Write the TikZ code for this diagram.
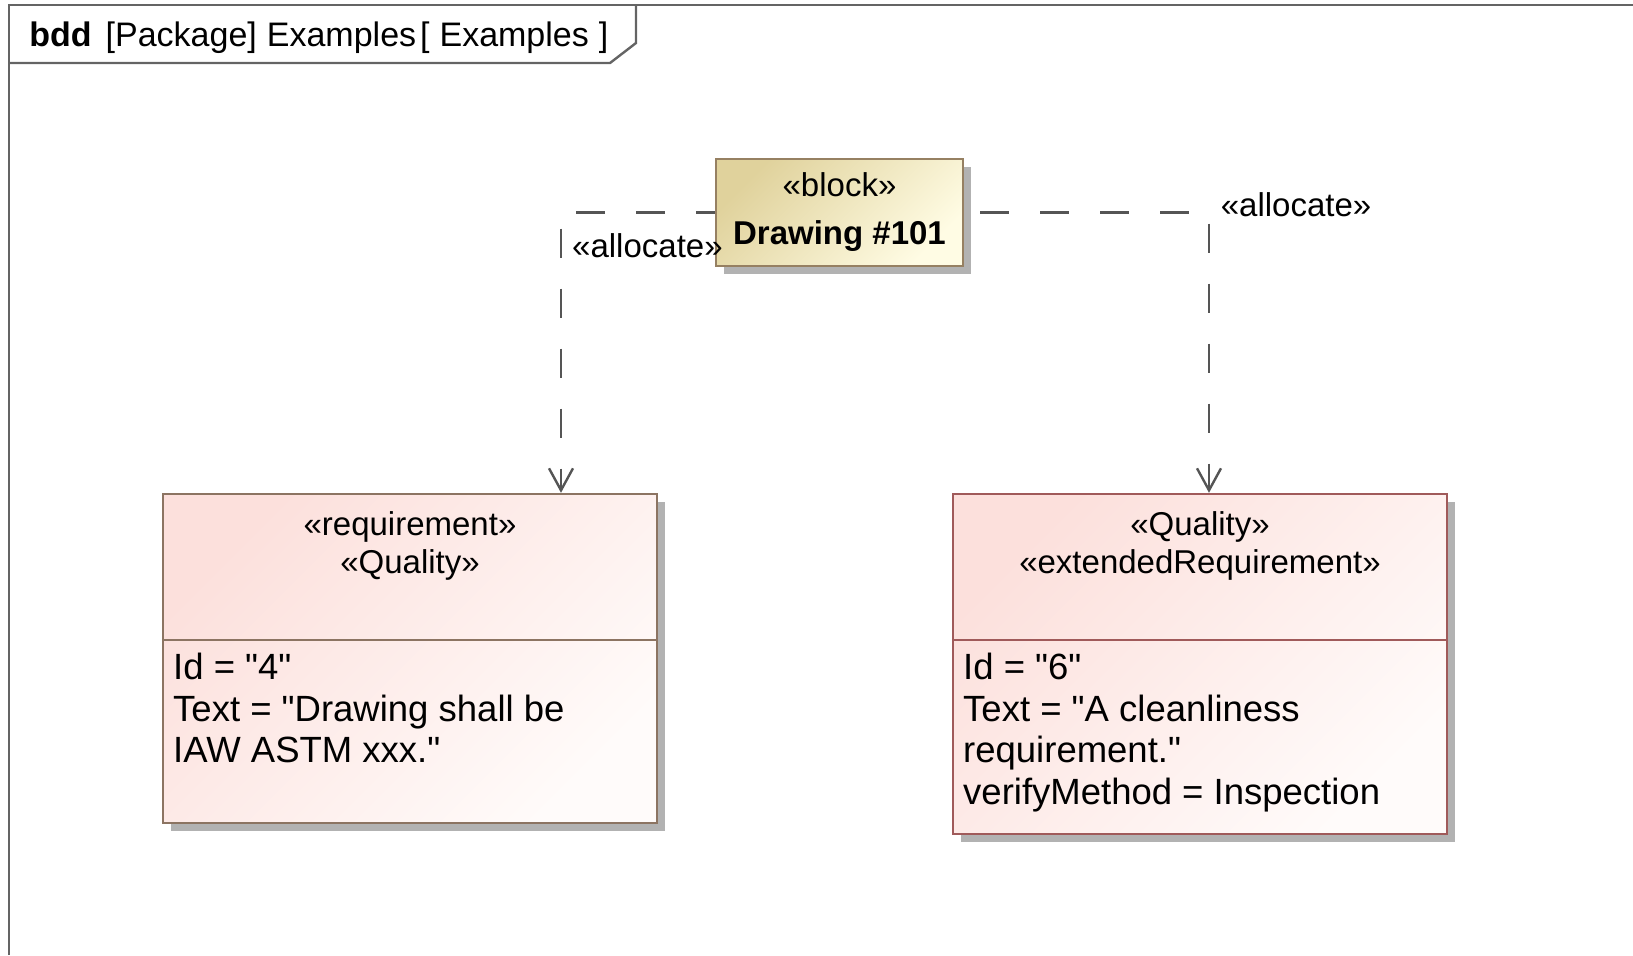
\documentclass[tikz,border=0pt]{standalone}
\usepackage{fontspec}
\setmainfont{Liberation Sans}[Ligatures=TeXOff]
\usetikzlibrary{positioning}
\usetikzlibrary{arrows.meta}
\usetikzlibrary{shadows}
\usetikzlibrary{calc}

\definecolor{framegray}{RGB}{100,100,100}
\definecolor{linegray}{RGB}{85,85,85}
\definecolor{blocktan}{RGB}{224,210,156}
\definecolor{blockcream}{RGB}{255,252,228}
\definecolor{blockedge}{RGB}{150,128,98}
\definecolor{reqpink}{RGB}{252,224,220}
\definecolor{reqwhite}{RGB}{255,251,250}
\definecolor{reqedge}{RGB}{140,116,98}
\definecolor{qualedge}{RGB}{160,90,90}

\begin{document}
\begin{tikzpicture}[x=0.5pt,y=-0.5pt]
			\tikzset{
				umlfont/.style={font=\fontsize{16.5}{19}\selectfont},
				blocknode/.style={rectangle, draw=blockedge, line width=1.2pt, top color=blocktan, bottom color=blockcream, shading angle=45, drop shadow={shadow xshift=4pt, shadow yshift=-4pt, fill=black!30, opacity=1}, minimum width=123.5pt, minimum height=53.5pt, inner sep=0pt, align=center, font=\fontsize{16.5}{24}\selectfont},
				reqnode/.style={rectangle, line width=1.2pt, top color=reqpink, bottom color=reqwhite, shading angle=45, drop shadow={shadow xshift=4pt, shadow yshift=-4pt, fill=black!30, opacity=1}, minimum width=247pt, inner sep=0pt},
				headtext/.style={umlfont, anchor=base, align=center, inner sep=0pt},
				attrtext/.style={font=\fontsize{18.25}{20.75}\selectfont, anchor=base west, align=left, inner sep=0pt},
				allocline/.style={draw=linegray, line width=1.2pt, dash pattern=on 14.5pt off 15.5pt, -{Straight Barb[length=11pt, width=12pt]}},
				alloclabel/.style={umlfont, anchor=base west, inner sep=0pt},
			}
			\useasboundingbox (0,0) rectangle (1633,955);

			% diagram frame and name tab
			\draw[framegray, line width=1.2pt] (9,955) -- (9,5) -- (1633,5);
			\draw[framegray, line width=1.2pt] (9,63) -- (610,63) -- (636,43) -- (636,5);
			\node[font=\fontsize{17}{19}\selectfont, anchor=base west, inner sep=0pt] (title) at (29,46) {\textbf{bdd}\hspace{7pt}[Package]\hspace{5pt}Examples\hspace{2pt}[\hspace{5pt}Examples\hspace{5pt}]};

			% block
			\node[blocknode] (drawing) at (839.5,212.5) {«block»\\\textbf{Drawing \#101}};

			% requirements
			\node[reqnode, draw=reqedge, minimum height=164.5pt] (req4) at (410,658.5) {};
			\node[reqnode, draw=qualedge, minimum height=170pt] (qual6) at (1200,664) {};
			\draw[reqedge, line width=1.2pt] ([yshift=-73.5pt]req4.north west) -- ([yshift=-73.5pt]req4.north east);
			\draw[qualedge, line width=1.2pt] ([yshift=-73.5pt]qual6.north west) -- ([yshift=-73.5pt]qual6.north east);

			% base anchor sits on the last line
			\node[headtext] (req4head) at ([yshift=-40.5pt]req4.north) {«requirement»\\«Quality»};
			\node[attrtext] (req4attr) at ([xshift=5.5pt, yshift=-135pt]req4.north west) {Id = "4"\\Text = "Drawing shall be\\IAW ASTM xxx."};
			\node[headtext] (qual6head) at ([yshift=-40.5pt]qual6.north) {«Quality»\\«extendedRequirement»};
			\node[attrtext] (qual6attr) at ([xshift=5.5pt, yshift=-155.75pt]qual6.north west) {Id = "6"\\Text = "A cleanliness\\requirement."\\verifyMethod = Inspection};

			% allocations
			\draw[allocline, dash phase=5pt] (drawing.west) -| node[alloclabel, pos=0.5, xshift=5pt, yshift=-22.5pt] {«allocate»} ([xshift=75.5pt]req4.north);
			\draw[allocline, dash phase=22pt] (drawing.east) -| node[alloclabel, pos=0.5, xshift=5.3pt, yshift=-1.8pt] {«allocate»} ([xshift=4.5pt]qual6.north);
		\end{tikzpicture}
\end{document}
